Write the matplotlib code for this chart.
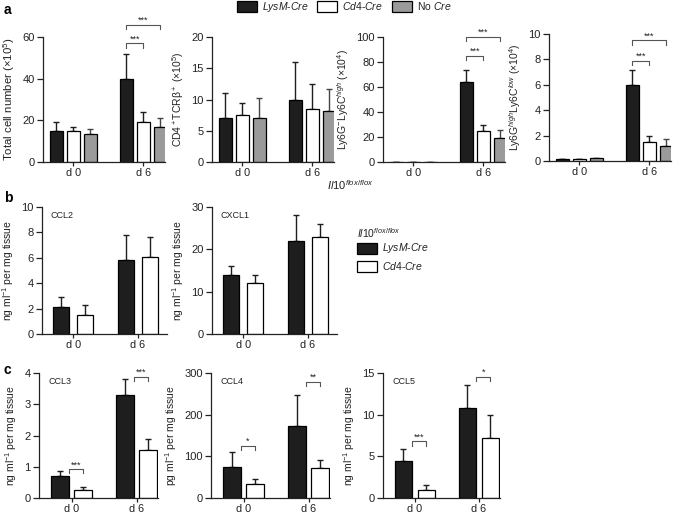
import numpy as np
import matplotlib
matplotlib.use('Agg')
import matplotlib.pyplot as plt
from matplotlib.patches import Rectangle

plt.rcParams['font.family'] = ['Liberation Sans', 'DejaVu Sans']
plt.rcParams['mathtext.fontset'] = 'custom'
plt.rcParams['mathtext.rm'] = 'Liberation Sans'
plt.rcParams['mathtext.it'] = 'Liberation Sans:italic'
plt.rcParams['mathtext.bf'] = 'Liberation Sans:bold'

INK = '#222222'
COLORS = ['#1e1e1e', '#ffffff', '#9a9a9a']
ERRCOL = ['#1e1e1e', '#1e1e1e', '#444444']
groups = ['d 0', 'd 6']
genotypes = ['LysM-Cre', 'Cd4-Cre', 'No Cre']

# row a: three genotypes, (d0, d6)
total_mean = [[15, 40], [15, 19], [13.5, 17]]
total_err = [[4, 12], [2, 5], [2.5, 4]]
cd4_mean = [[7, 10], [7.5, 8.5], [7, 8.2]]
cd4_err = [[4, 6], [2, 4], [3.2, 3.5]]
ly6c_mean = [[0, 64], [0, 25], [0, 19]]
ly6c_err = [[0, 10], [0, 5], [0, 7]]
ly6g_mean = [[0.15, 6], [0.15, 1.5], [0.2, 1.2]]
ly6g_err = [[0.03, 1.2], [0.03, 0.5], [0.06, 0.5]]

# row b / c: two genotypes
ccl2_mean = [[2.1, 5.8], [1.5, 6.1]]
ccl2_err = [[0.8, 2.0], [0.8, 1.5]]
cxcl1_mean = [[14, 22], [12, 23]]
cxcl1_err = [[2, 6], [2, 3]]
ccl3_mean = [[0.7, 3.3], [0.27, 1.55]]
ccl3_err = [[0.15, 0.5], [0.07, 0.35]]
ccl4_mean = [[75, 173], [33, 71]]
ccl4_err = [[35, 75], [12, 21]]
ccl5_mean = [[4.5, 10.8], [1.0, 7.2]]
ccl5_err = [[1.4, 2.8], [0.6, 2.8]]

W, H = 685, 515
fig = plt.figure(figsize=(6.85, 5.15), dpi=100)


def make_ax(left, top, right, bottom):
    return fig.add_axes([left / W, 1 - bottom / H, (right - left) / W, (bottom - top) / H])


def style(ax, ylim, yticks, ylabel, xlim, lsize=7.5):
    ax.set_xlim(*xlim)
    ax.set_ylim(*ylim)
    ax.set_yticks(yticks)
    ax.set_xticks([0, 1])
    ax.set_xticklabels(groups)
    for s in ['top', 'right']:
        ax.spines[s].set_visible(False)
    for s in ['left', 'bottom']:
        ax.spines[s].set_color(INK)
        ax.spines[s].set_linewidth(0.9)
    ax.tick_params(axis='y', length=4, width=0.9, colors=INK, labelsize=8, pad=2)
    ax.tick_params(axis='x', length=3, width=0.9, colors=INK, labelsize=7.8, pad=1)
    ax.set_ylabel(ylabel, fontsize=lsize, color=INK, labelpad=4)


def bars(ax, means, errs, width, step):
    n = len(means)
    offs = (np.arange(n) - (n - 1) / 2) * step
    x = np.arange(2)
    for i in range(n):
        ax.bar(x + offs[i], means[i], width, color=COLORS[i], edgecolor='black',
               linewidth=0.9, zorder=2)
        ax.errorbar(x + offs[i], means[i], yerr=[np.zeros(2), errs[i]], fmt='none',
                    ecolor=ERRCOL[i], elinewidth=1.0, capsize=2.5, capthick=1.0, zorder=1)
    return offs


def bracket(ax, x1, x2, y, h, txt):
    ax.plot([x1, x1, x2, x2], [y - h, y, y, y - h], color='#555555', lw=0.8, clip_on=False)
    ax.text((x1 + x2) / 2, y, txt, ha='center', va='bottom', fontsize=6.5, color=INK)


# ---- row a ----
xa = (-0.43, 1.31)
wa, sa = 0.186, 0.243
a1 = make_ax(43, 37, 165, 162)
o = bars(a1, total_mean, total_err, wa, sa)
style(a1, (0, 60), [0, 20, 40, 60], 'Total cell number (×10$^5$)', xa, 8.2)
bracket(a1, 1 + o[0], 1 + o[1], 57, 2.2, '***')
bracket(a1, 1 + o[0], 1 + o[2], 66, 2.2, '***')

a2 = make_ax(212, 37, 334, 162)
bars(a2, cd4_mean, cd4_err, wa, sa)
style(a2, (0, 20), [0, 5, 10, 15, 20], 'CD4$^+$TCRβ$^+$ (×10$^5$)', xa)

a3 = make_ax(383, 37, 505, 162)
o = bars(a3, ly6c_mean, ly6c_err, wa, sa)
style(a3, (0, 100), [0, 20, 40, 60, 80, 100], 'Ly6G$^{-}$Ly6C$^{high}$ (×10$^4$)', xa)
bracket(a3, 1 + o[0], 1 + o[1], 85, 3.5, '***')
bracket(a3, 1 + o[0], 1 + o[2], 100, 3.5, '***')

a4 = make_ax(549, 34, 671, 161)
o = bars(a4, ly6g_mean, ly6g_err, wa, sa)
style(a4, (0, 10), [0, 2, 4, 6, 8, 10], 'Ly6G$^{high}$Ly6C$^{low}$ (×10$^4$)', xa)
bracket(a4, 1 + o[0], 1 + o[1], 7.9, 0.35, '***')
bracket(a4, 1 + o[0], 1 + o[2], 9.5, 0.35, '***')

# top legend
for px, lab, c in [(237, '$\\mathit{LysM}$-$\\mathit{Cre}$', COLORS[0]),
                   (317, '$\\mathit{Cd4}$-$\\mathit{Cre}$', COLORS[1]),
                   (392, 'No $\\mathit{Cre}$', COLORS[2])]:
    fig.patches.append(Rectangle((px / W, 1 - 12 / H), 20 / W, 11 / H, transform=fig.transFigure,
                                 facecolor=c, edgecolor='black', lw=0.9))
    fig.text((px + 25) / W, 1 - 6.5 / H, lab, fontsize=7.5, va='center', color=INK)

fig.text(350 / W, 1 - 185 / H, '$\\mathit{Il10}^{\\mathit{flox/flox}}$', fontsize=8,
         ha='center', va='center', color=INK)

# ---- row b ----
xb = (-0.48, 1.45)
wb, sb = 0.25, 0.37
b1 = make_ax(42, 207, 167, 334)
bars(b1, ccl2_mean, ccl2_err, wb, sb)
style(b1, (0, 10), [0, 2, 4, 6, 8, 10], 'ng ml$^{-1}$ per mg tissue', xb)
b1.text(0.07, 0.97, 'CCL2', transform=b1.transAxes, fontsize=6.5, va='top', color=INK)

b2 = make_ax(212, 207, 337, 334)
bars(b2, cxcl1_mean, cxcl1_err, wb, sb)
style(b2, (0, 30), [0, 10, 20, 30], 'ng ml$^{-1}$ per mg tissue', xb)
b2.text(0.07, 0.97, 'CXCL1', transform=b2.transAxes, fontsize=6.5, va='top', color=INK)

fig.text(357 / W, 1 - 233 / H, '$\\mathit{Il10}^{\\mathit{flox/flox}}$', fontsize=7.5,
         va='center', color=INK)
for py, lab, c in [(248, '$\\mathit{LysM}$-$\\mathit{Cre}$', COLORS[0]),
                   (266, '$\\mathit{Cd4}$-$\\mathit{Cre}$', COLORS[1])]:
    fig.patches.append(Rectangle((357 / W, 1 - (py + 5.5) / H), 20 / W, 11 / H,
                                 transform=fig.transFigure, facecolor=c, edgecolor='black', lw=0.9))
    fig.text(382 / W, 1 - py / H, lab, fontsize=7.5, va='center', color=INK)

# ---- row c ----
xc = (-0.5, 1.33)
wc, sc = 0.27, 0.36
c1 = make_ax(39, 373, 158, 498)
o = bars(c1, ccl3_mean, ccl3_err, wc, sc)
style(c1, (0, 4), [0, 1, 2, 3, 4], 'ng ml$^{-1}$ per mg tissue', xc)
c1.text(0.08, 0.97, 'CCL3', transform=c1.transAxes, fontsize=6.5, va='top', color=INK)
for g, y in [(0, 0.92), (1, 3.87)]:
    bracket(c1, g + o[0] + wc / 2, g + o[1], y, 0.13, '***')

c2 = make_ax(211, 373, 330, 498)
o = bars(c2, ccl4_mean, ccl4_err, wc, sc)
style(c2, (0, 300), [0, 100, 200, 300], 'pg ml$^{-1}$ per mg tissue', xc)
c2.text(0.08, 0.97, 'CCL4', transform=c2.transAxes, fontsize=6.5, va='top', color=INK)
for g, y, t in [(0, 126, '*'), (1, 279, '**')]:
    bracket(c2, g + o[0] + wc / 2, g + o[1], y, 10, t)

c3 = make_ax(383, 373, 500, 498)
o = bars(c3, ccl5_mean, ccl5_err, wc, sc)
style(c3, (0, 15), [0, 5, 10, 15], 'ng ml$^{-1}$ per mg tissue', xc)
c3.text(0.08, 0.97, 'CCL5', transform=c3.transAxes, fontsize=6.5, va='top', color=INK)
for g, y, t in [(0, 6.8, '***'), (1, 14.5, '*')]:
    bracket(c3, g + o[0] + wc / 2, g + o[1], y, 0.5, t)

# panel letters
for lab, y in [('a', 10), ('b', 198), ('c', 370)]:
    fig.text(4 / W, 1 - y / H, lab, fontsize=10, fontweight='bold', va='center', color='black')

fig.savefig('out.png', dpi=100)
